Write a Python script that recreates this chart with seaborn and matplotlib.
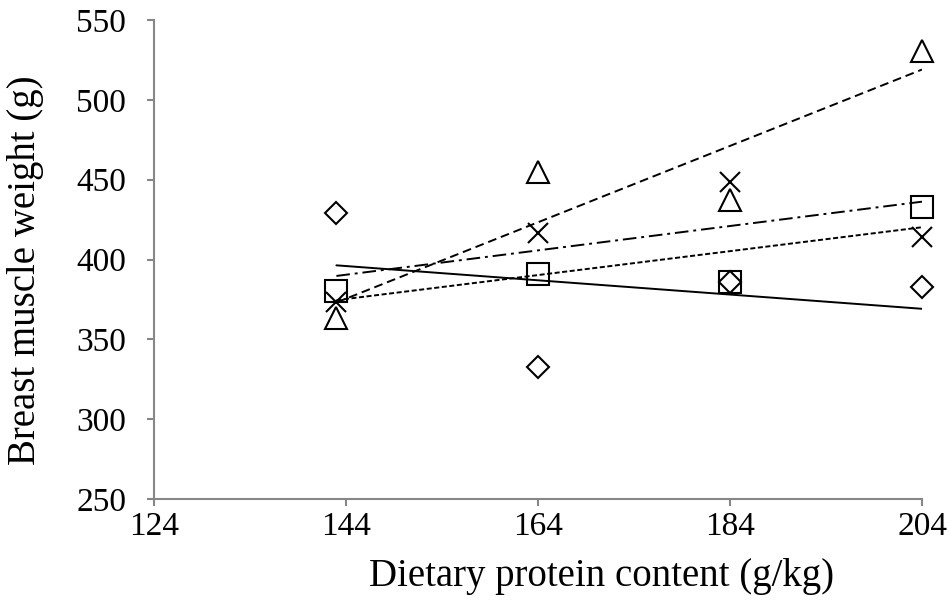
import matplotlib
matplotlib.use("Agg")
import matplotlib.pyplot as plt
import seaborn as sns
import pandas as pd
import numpy as np

# Data
protein = [143, 164, 184, 204]
series_diamond = [429.3, 332.9, 385.7, 382.6]
series_square = [380.5, 390.9, 385.7, 433.1]
series_triangle = [363.4, 455.0, 437.3, 530.8]
series_cross = [373.6, 416.4, 448.7, 413.9]

x_ticks = [124, 144, 164, 184, 204]
y_ticks = [250, 300, 350, 400, 450, 500, 550]

sns.set_theme(style="white")
plt.rcParams['font.family'] = ['Liberation Serif', 'DejaVu Serif']

fig = plt.figure(figsize=(9.5, 6.09), dpi=100)
ax = fig.add_axes([154/950, 1-499/609, (922-154)/950, (499-20)/609])

specs = [
    (series_diamond, 'D', 11.5, '-'),
    (series_square, 's', 16, (0, (2.6, 1.3))),
    (series_triangle, '^', 16.5, (0, (4.5, 2.5))),
    (series_cross, 'x', 15, (0, (7, 2.5, 1.5, 2.5))),
]

for vals, mk, ms, ls in specs:
    df = pd.DataFrame({'x': protein, 'y': vals})
    sns.regplot(data=df, x='x', y='y', ax=ax, ci=None, scatter=False,
                truncate=True, color='black',
                line_kws={'linewidth': 1.4, 'linestyle': ls})
    if mk == 'x':
        ax.plot(df['x'], df['y'], linestyle='none', marker=mk, markersize=ms,
                markeredgecolor='black', markeredgewidth=1.5, clip_on=False, zorder=5)
    else:
        ax.plot(df['x'], df['y'], linestyle='none', marker=mk, markersize=ms,
                markerfacecolor='none', markeredgecolor='black',
                markeredgewidth=1.5, clip_on=False, zorder=5)

ax.set_xlim(124, 204)
ax.set_ylim(250, 550)
ax.set_xticks(x_ticks)
ax.set_yticks(y_ticks)
ax.set_xticklabels([str(t) for t in x_ticks])
ax.set_yticklabels([str(t) for t in y_ticks])

for side in ['top', 'right']:
    ax.spines[side].set_visible(False)
for side in ['left', 'bottom']:
    ax.spines[side].set_color('#878787')
    ax.spines[side].set_linewidth(1.5)

ax.tick_params(axis='both', which='major', direction='out', length=5, width=1.5,
               color='#878787', labelsize=24, labelcolor='black',
               left=True, bottom=True)
ax.tick_params(axis='y', pad=15)
ax.tick_params(axis='x', pad=4)

ax.set_xlabel('Dietary protein content (g/kg)', fontsize=28, color='black')
ax.set_ylabel('Breast muscle weight (g)', fontsize=28, color='black')
ax.xaxis.set_label_coords((602 - 154) / 768, -(558 - 499) / 479)
ax.yaxis.set_label_coords(-(154 - 44) / 768, (499 - 270) / 479)

fig.savefig('out.png', dpi=100)
